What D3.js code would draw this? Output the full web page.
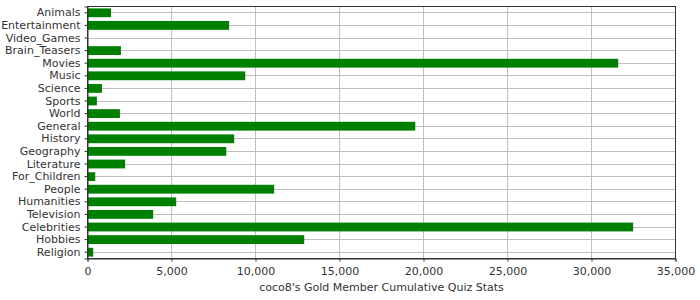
<!DOCTYPE html>
<html lang="en">
<head>
<meta charset="utf-8">
<script src="https://cdnjs.cloudflare.com/ajax/libs/d3/7.8.5/d3.min.js"></script>
<style>
  body { margin: 0; background: #fff; }
  text { font-family: "DejaVu Sans", sans-serif; fill: #333; }
</style>
</head>
<body>
<div id="chart"></div>
<script>
  const categories = ["Animals","Entertainment","Video_Games","Brain_Teasers","Movies","Music","Science","Sports","World","General","History","Geography","Literature","For_Children","People","Humanities","Television","Celebrities","Hobbies","Religion"];
  const values = [1400,8430,0,1990,31590,9390,860,560,1930,19510,8730,8260,2240,460,11110,5280,3910,32480,12900,340];
  const xTicks = [0,5000,10000,15000,20000,25000,30000,35000];
  const axisTitle = "coco8's Gold Member Cumulative Quiz Stats";

  const width = 700, height = 300;
  const margin = {top: 6.5, right: 24.5, bottom: 41.5, left: 87.5};
  const iw = width - margin.left - margin.right, ih = height - margin.top - margin.bottom;

  const svg = d3.select("#chart").append("svg").attr("width", width).attr("height", height);
  const g = svg.append("g").attr("transform", "translate(" + margin.left + "," + margin.top + ")");

  const x = d3.scaleLinear().domain([0, 35000]).range([0, iw]);
  const y = d3.scaleBand().domain(categories).range([0, ih]).paddingInner(0.3).paddingOuter(0.15);

  // grid
  g.selectAll(".vgrid").data(xTicks).enter().append("line")
    .attr("x1", function(d){return Math.round(x(d)) ;}).attr("x2", function(d){return Math.round(x(d));})
    .attr("y1", 0).attr("y2", ih)
    .attr("stroke", "#c0c0c0").attr("stroke-width", 1);
  g.selectAll(".hgrid").data(categories).enter().append("line")
    .attr("x1", 0).attr("x2", iw)
    .attr("y1", function(d){return Math.round(y(d) + y.bandwidth()/2);})
    .attr("y2", function(d){return Math.round(y(d) + y.bandwidth()/2);})
    .attr("stroke", "#c0c0c0").attr("stroke-width", 1);

  // bars
  g.selectAll(".bar").data(values).enter().append("rect")
    .attr("x", 0)
    .attr("y", function(d, i){return y(categories[i]);})
    .attr("width", function(d){return x(d);})
    .attr("height", y.bandwidth())
    .attr("fill", "#008000");

  // frame
  g.append("rect").attr("x", 0).attr("y", 0).attr("width", iw).attr("height", ih)
    .attr("fill", "none").attr("stroke", "#333").attr("stroke-width", 1);

  // axes
  const xAxis = d3.axisBottom(x).tickValues(xTicks).tickSize(3).tickPadding(6).tickFormat(d3.format(","));
  const yAxis = d3.axisLeft(y).tickSize(3).tickPadding(4);

  const gx = g.append("g").attr("transform", "translate(0," + ih + ")").call(xAxis);
  const gy = g.append("g").call(yAxis);
  [gx, gy].forEach(function(a){
    a.select(".domain").attr("stroke", "#333");
    a.selectAll(".tick line").attr("stroke", "#333");
    a.selectAll("text").style("font-size", "11px").attr("fill", "#333");
  });

  g.append("text")
    .attr("x", iw / 2).attr("y", ih + 32)
    .attr("text-anchor", "middle")
    .style("font-size", "11px")
    .text(axisTitle);
</script>
</body>
</html>
